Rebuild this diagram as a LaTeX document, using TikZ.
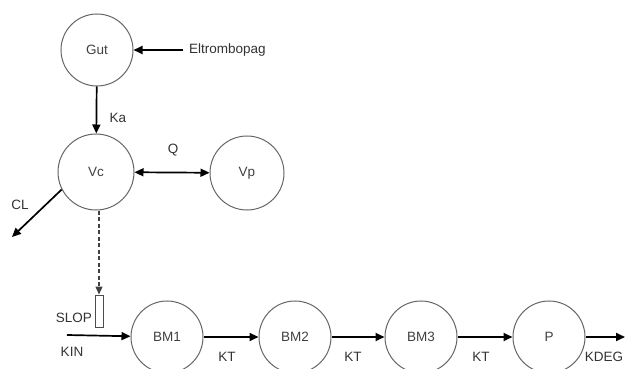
\documentclass[tikz,border=0pt]{standalone}
\usepackage{fontspec}
\setmainfont{Liberation Sans}
\usetikzlibrary{arrows.meta,positioning}

\begin{document}
\begin{tikzpicture}[x=1pt,y=-1pt]
		\tikzstyle{compartment}=[circle,draw=black!60,line width=1pt,minimum size=72pt,inner sep=0pt,font=\fontsize{13.5}{15}\selectfont,text=black!75]
		\tikzstyle{flow}=[line width=1.7pt,-{Triangle[length=9pt,width=8pt]}]
		\tikzstyle{exchange}=[line width=1.7pt,{Triangle[length=9pt,width=8pt]}-{Triangle[length=9pt,width=8pt]}]
		\tikzstyle{effect}=[line width=1.3pt,black!75,dash pattern=on 4pt off 2.5pt,-{Triangle[length=8pt,width=7pt]}]
		\tikzstyle{param}=[font=\fontsize{13.5}{15}\selectfont,text=black!80,inner sep=1pt]
		
		\useasboundingbox (0,0) rectangle (625,369);
		
		% PK part
		\node[compartment] (gut) at (97,50) {Gut};
		\node[compartment,minimum size=76pt] (vc) at (96,172) {Vc};
		\node[compartment,minimum size=74pt] (vp) at (247,173) {Vp};
		\coordinate (dose) at (183,50);
		\coordinate (elim) at (12,237);
		\node[param,anchor=west] (drug) at (188,50) {Eltrombopag};
		\draw[flow] (dose) -- (gut);
		\draw[flow] (gut) -- (vc);
		\draw[exchange] (vc) -- (vp);
		\draw[flow] (vc.207) -- (elim);
		\node[param] (ka) at (118,118) {Ka};
		\node[param] (q) at (173,150) {Q};
		\node[param] (cl) at (20,205) {CL};
		
		% PD part
		\node[compartment] (bm1) at (167,337) {BM1};
		\node[compartment] (bm2) at (295,337) {BM2};
		\node[compartment] (bm3) at (421,337) {BM3};
		\node[compartment] (plt) at (549,337) {P};
		\node[draw=black!70,line width=1pt,minimum width=8pt,minimum height=32pt,inner sep=0pt] (slop) at (99,311) {};
		\coordinate (kin) at (67,335);
		\coordinate (out) at (625,337);
		\draw[effect] (vc.south -| slop.north) -- (slop.north);
		\draw[flow] (kin) -- (bm1);
		\draw[flow] (bm1) -- (bm2);
		\draw[flow] (bm2) -- (bm3);
		\draw[flow] (bm3) -- (plt);
		\draw[flow] (plt) -- (out);
		\node[param,anchor=east] (slopl) at (93,318) {SLOP};
		\node[param] (kinl) at (72,352) {KIN};
		\node[param] (kt1) at (227,357) {KT};
		\node[param] (kt2) at (353,357) {KT};
		\node[param] (kt3) at (481,357) {KT};
		\node[param] (kdeg) at (604,357) {KDEG};
\end{tikzpicture}
\end{document}
